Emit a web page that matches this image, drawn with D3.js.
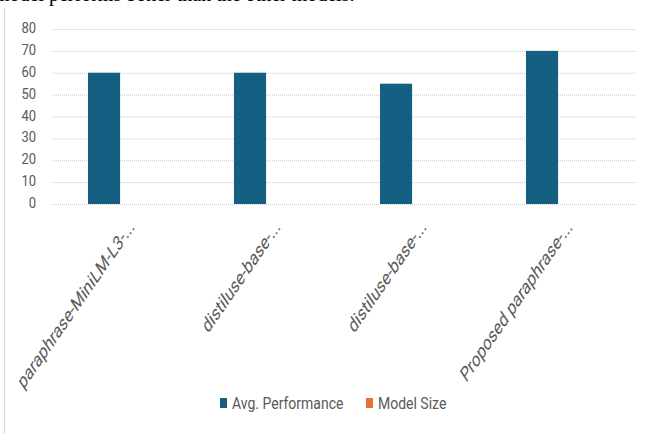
<!DOCTYPE html>
<html>
<head>
<meta charset="utf-8">
<script src="https://cdn.jsdelivr.net/npm/d3@7"></script>
<style>
  body { margin: 0; background: #fff; }
  svg { display: block; }
  text { font-family: Roboto, "Open Sans", sans-serif; }
</style>
</head>
<body>
<svg width="649" height="434"></svg>
<script>
const categories = ['paraphrase-MiniLM-L3-...', 'distiluse-base-...', 'distiluse-base-...', 'Proposed paraphrase-...'];
const seriesNames = ['Avg. Performance', 'Model Size'];
const avgPerformance = [60, 60, 55, 70];
const modelSize = [0, 0, 0, 0];
const yTicks = [0, 10, 20, 30, 40, 50, 60, 70, 80];

const colors = ['#156082', '#e97132'];
const textColor = '#595959';

const svg = d3.select('svg');

// table built from the arrays
const data = categories.map((c, i) => ({
  key: i,
  name: c,
  values: [avgPerformance[i], modelSize[i]]
}));

// clipped caption line from the page above the chart
svg.append('text')
  .attr('x', -6)
  .attr('y', 1)
  .attr('font-size', 20)
  .attr('fill', '#000')
  .style('font-family', '"Liberation Serif", serif')
  .text('model performs better than the other models.');

// chart frame left edge
svg.append('line')
  .attr('x1', 4.5).attr('x2', 4.5)
  .attr('y1', 8).attr('y2', 434)
  .attr('stroke', '#d9d9d9');

const left = 52, right = 636;

const x0 = d3.scaleBand()
  .domain(data.map(d => d.key))
  .range([left, right])
  .paddingInner(0.56)
  .paddingOuter(0.28)
  .align(0.44);

const x1 = d3.scaleBand()
  .domain(d3.range(seriesNames.length))
  .range([0, x0.bandwidth()]);

const y = d3.scaleLinear()
  .domain([0, 80])
  .range([204, 29]);

// gridlines + tick labels
const yAxis = d3.axisLeft(y)
  .tickValues(yTicks)
  .tickSize(-(right - left))
  .tickPadding(16);

const yAxisG = svg.append('g')
  .attr('transform', `translate(${left},0)`)
  .call(yAxis);
yAxisG.select('.domain').remove();
yAxisG.selectAll('.tick line')
  .attr('stroke', '#c8c8c8')
  .attr('stroke-dasharray', '1,1');
yAxisG.selectAll('.tick text')
  .attr('fill', textColor)
  .attr('font-size', 13)
  .attr('transform', 'scale(1,1.1)')
  .attr('dy', '0.25em')
  .style('font-family', 'Roboto, sans-serif');
yAxisG.selectAll('.tick text')
  .attr('y', function () { return 0; });

// bars
const groups = svg.append('g').selectAll('g').data(data)
  .enter().append('g')
  .attr('transform', d => `translate(${x0(d.key)},0)`);

groups.selectAll('rect')
  .data(d => d.values.map((v, i) => ({ i, v })))
  .enter().append('rect')
  .attr('x', d => x1(d.i))
  .attr('width', x1.bandwidth())
  .attr('y', d => y(d.v))
  .attr('height', d => y(0) - y(d.v))
  .attr('fill', d => colors[d.i]);

// category labels, rotated (picture is stretched vertically)
svg.append('g').selectAll('text').data(data)
  .enter().append('text')
  .attr('transform', d => `translate(${x0(d.key) + x0.bandwidth() / 2 + 15},228) scale(1,1.45) rotate(-45)`)
  .attr('text-anchor', 'end')
  .attr('font-size', 14.3)
  .attr('fill', textColor)
  .text(d => d.name);

// legend
const legend = svg.append('g');
const legendX = [220, 366];
seriesNames.forEach((s, i) => {
  legend.append('rect')
    .attr('x', legendX[i])
    .attr('y', 398)
    .attr('width', 7)
    .attr('height', 10)
    .attr('fill', colors[i]);
  legend.append('text')
    .attr('transform', `translate(${legendX[i] + 12},409) scale(1,1.2)`)
    .attr('font-size', 14)
    .attr('fill', textColor)
    .text(s);
});
</script>
</body>
</html>
